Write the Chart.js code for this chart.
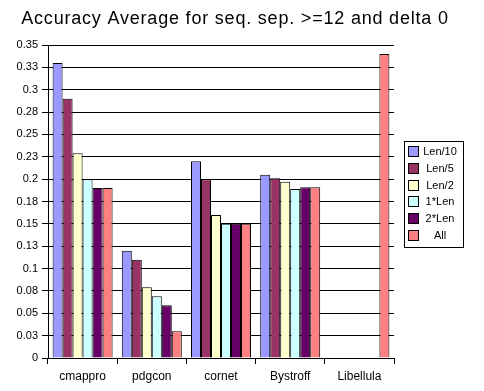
<!DOCTYPE html>
<html>
<head>
<meta charset="utf-8">
<title>Accuracy Average</title>
<script src="https://cdn.jsdelivr.net/npm/chart.js@4"></script>
<style>
  body { margin:0; background:#fff; }
  #wrap { width:484px; height:391px; }
</style>
</head>
<body>
<div id="wrap"><canvas id="barChart"></canvas></div>
<script>
var chartTitle = 'Accuracy Average for seq. sep. >=12 and delta 0';
var categories = ['cmappro', 'pdgcon', 'cornet', 'Bystroff', 'Libellula'];
var seriesNames = ['Len/10', 'Len/5', 'Len/2', '1*Len', '2*Len', 'All'];
var seriesColors = ['#9999FF', '#993366', '#FFFFCC', '#CCFFFF', '#660066', '#FF8080'];

var len10 = [0.330, 0.120, 0.220, 0.205, null];
var len5  = [0.290, 0.110, 0.200, 0.201, null];
var len2  = [0.229, 0.079, 0.160, 0.197, null];
var len1x = [0.200, 0.069, 0.150, 0.189, null];
var len2x = [0.190, 0.059, 0.150, 0.191, null];
var all   = [0.190, 0.030, 0.150, 0.191, 0.340];

// excel rounds the 0.025 steps to two decimals
var yTickLabels = ['0', '0.03', '0.05', '0.08', '0.1', '0.13', '0.15', '0.18', '0.2', '0.23', '0.25', '0.28', '0.3', '0.33', '0.35'];

var values = [len10, len5, len2, len1x, len2x, all];
var datasets = [];
for (var i = 0; i < seriesNames.length; i++) {
    datasets.push({
        label: seriesNames[i],
        data: values[i],
        backgroundColor: seriesColors[i],
        borderColor: '#000',
        borderWidth: 1,
        barPercentage: 1,
        categoryPercentage: 0.867
    });
}

// title and boxed legend, drawn like the excel one
var boxLegend = {
    id: 'boxLegend',
    afterDraw: function(chart) {
        var ctx = chart.ctx;
        ctx.save();
        ctx.fillStyle = '#000';
        ctx.font = '18px "Liberation Sans", Arial, sans-serif';
        ctx.letterSpacing = '0.8px';
        ctx.textAlign = 'center';
        ctx.textBaseline = 'middle';
        ctx.fillText(chartTitle, 235, 19);
        ctx.letterSpacing = '0px';

        ctx.strokeStyle = '#000';
        ctx.lineWidth = 1;
        ctx.strokeRect(404.5, 141.5, 59, 106);
        ctx.font = '11px "Liberation Sans", Arial, sans-serif';
        for (var i = 0; i < chart.data.datasets.length; i++) {
            var ds = chart.data.datasets[i];
            var y = 146 + i * 16.8;
            ctx.fillStyle = ds.backgroundColor;
            ctx.fillRect(408, Math.round(y), 11, 11);
            ctx.strokeRect(408.5, Math.round(y) + 0.5, 10, 10);
            ctx.fillStyle = '#000';
            ctx.fillText(ds.label, 440, Math.round(y) + 6);
        }
        ctx.restore();
    }
};

var chartDiv = document.getElementById('barChart');
var myChart = new Chart(chartDiv, {
    type: 'bar',
    data: {
        labels: categories,
        datasets: datasets
    },
    options: {
        responsive: true,
        maintainAspectRatio: false,
        animation: false,
        layout: { padding: { top: 45, right: 90, bottom: 0, left: 0 } },
        plugins: {
            legend: { display: false },
            title: { display: false },
            tooltip: { enabled: false }
        },
        scales: {
            x: {
                afterFit: function(scale) { scale.height = 33; },
                grid: { drawOnChartArea: false, color: '#000', tickLength: 6, offset: true },
                border: { color: '#000' },
                ticks: {
                    color: '#000',
                    padding: 5,
                    font: { family: '"Liberation Sans", Arial, sans-serif', size: 12 }
                }
            },
            y: {
                min: 0,
                max: 0.35,
                afterFit: function(scale) { scale.width = 48; },
                grid: { color: '#000', tickLength: 6 },
                border: { color: '#000' },
                ticks: {
                    stepSize: 0.025,
                    color: '#000',
                    padding: 4,
                    font: { family: '"Liberation Sans", Arial, sans-serif', size: 11 },
                    callback: function(value, index) {
                        return yTickLabels[index];
                    }
                }
            }
        }
    },
    plugins: [boxLegend]
});
</script>
</body>
</html>
